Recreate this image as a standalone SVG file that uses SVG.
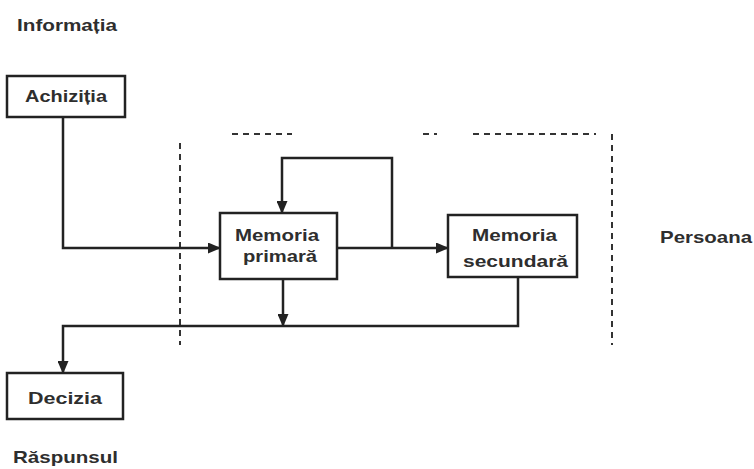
<svg xmlns="http://www.w3.org/2000/svg" width="754" height="469" viewBox="0 0 754 469">
<style>
  .box { fill: #ffffff; stroke: #222; stroke-width: 2.5; }
  .t { font-family: "Liberation Sans", Arial, sans-serif; font-size: 17px; fill: #2e2e2e; font-weight: bold; }
  .c { fill: none; stroke: #222; stroke-width: 2.5; }
  .d { fill: none; stroke: #333; stroke-width: 2; stroke-dasharray: 6 5; }
</style>
<defs>
  <marker id="ah" markerWidth="13" markerHeight="11" refX="12" refY="5.5" orient="auto" markerUnits="userSpaceOnUse">
    <path d="M0,0 L13,5.5 L0,11 Z" fill="#222"/>
  </marker>
</defs>
<rect width="754" height="469" fill="#ffffff"/>

<g id="boundary">
  <line class="d" x1="232" y1="134" x2="292" y2="134"/>
  <line class="d" x1="423" y1="134" x2="437" y2="134"/>
  <line class="d" x1="473" y1="134" x2="596" y2="134"/>
  <line class="d" x1="612" y1="134" x2="612" y2="345"/>
  <line class="d" x1="180" y1="143" x2="180" y2="345"/>
</g>

<g id="labels">
  <text class="t" x="17" y="31" textLength="100" lengthAdjust="spacingAndGlyphs">Informația</text>
  <text class="t" x="660" y="243" textLength="92" lengthAdjust="spacingAndGlyphs">Persoana</text>
  <text class="t" x="13" y="463" textLength="105" lengthAdjust="spacingAndGlyphs">Răspunsul</text>
</g>

<g id="connectors">
  <path class="c" d="M63,117 V248 H220" marker-end="url(#ah)"/>
  <path class="c" d="M337,248 H448" marker-end="url(#ah)"/>
  <path class="c" d="M392,248 V158 H282 V213" marker-end="url(#ah)"/>
  <path class="c" d="M283,279 V326" marker-end="url(#ah)"/>
  <path class="c" d="M518,277 V326 H63 V373" marker-end="url(#ah)"/>
</g>

<g id="achizitia">
  <rect class="box" x="7" y="76" width="118" height="41"/>
  <text class="t" x="25" y="102" textLength="82" lengthAdjust="spacingAndGlyphs">Achiziția</text>
</g>

<g id="memoria-primara">
  <rect class="box" x="220" y="213" width="117" height="66"/>
  <text class="t" x="235" y="241" textLength="84" lengthAdjust="spacingAndGlyphs">Memoria</text>
  <text class="t" x="243" y="262" textLength="74" lengthAdjust="spacingAndGlyphs">primară</text>
</g>

<g id="memoria-secundara">
  <rect class="box" x="448" y="215" width="129" height="62"/>
  <text class="t" x="472" y="241" textLength="85" lengthAdjust="spacingAndGlyphs">Memoria</text>
  <text class="t" x="463" y="267" textLength="105" lengthAdjust="spacingAndGlyphs">secundară</text>
</g>

<g id="decizia">
  <rect class="box" x="7" y="373" width="116" height="46"/>
  <text class="t" x="28" y="404" textLength="74" lengthAdjust="spacingAndGlyphs">Decizia</text>
</g>
</svg>
